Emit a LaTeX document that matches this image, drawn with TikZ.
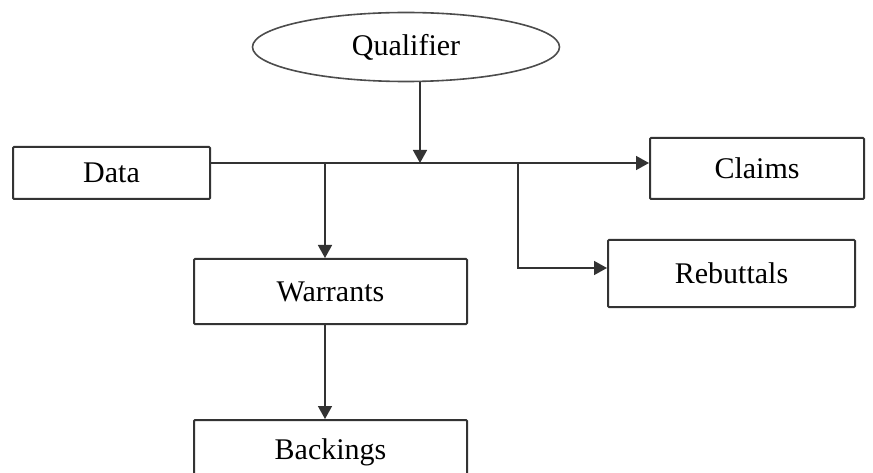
\documentclass[tikz,border=0pt]{standalone}
\usepackage{fontspec}
\setmainfont{Liberation Serif}
\usetikzlibrary{positioning, shapes.geometric, arrows.meta}

\begin{document}
\begin{tikzpicture}[x=1pt, y=-1pt,
		box/.style={draw=black!80, line width=2pt, rounded corners=1pt, fill=white, inner sep=0pt, font=\fontsize{30}{32}\selectfont},
		oval/.style={draw=black!70, line width=1.6pt, ellipse, inner sep=0pt, minimum width=307pt, minimum height=69pt, font=\fontsize{30}{32}\selectfont},
		link/.style={draw=black!80, line width=1.6pt},
		arr/.style={link, -{Triangle[width=14pt,length=13pt]}}
		]
		\clip (0,0) rectangle (873,473);
		
		\node[box, minimum width=197pt, minimum height=52pt] (data) at (111.5,173) {Data};
		\node[box, minimum width=214pt, minimum height=61pt, right=438pt of data, yshift=4.5pt] (claims) {Claims};
		\node[box, minimum width=247pt, minimum height=67pt, below=39pt of claims, xshift=-25.5pt] (rebuttals) {Rebuttals};
		\node[box, minimum width=273pt, minimum height=65pt, below right=58pt and -18pt of data] (warrants) {Warrants};
		\node[box, minimum width=273pt, minimum height=65pt, below=94pt of warrants] (backings) {Backings};
		\node[oval] (qualifier) at (406,47) {Qualifier};
		
		% main line
		\coordinate (bus) at (420,163);
		\coordinate (w) at (325,163);
		\coordinate (r) at (518,163);
		\draw[arr] (data.east |- bus) -- (claims.west |- bus);
		\draw[arr] (bus |- qualifier.south) -- (bus);
		\draw[arr] (w) -- (w |- warrants.north);
		\draw[arr] (w |- warrants.south) -- (w |- backings.north);
		\draw[arr] (r) |- (rebuttals.west |- 0,268);
	\end{tikzpicture}
\end{document}
